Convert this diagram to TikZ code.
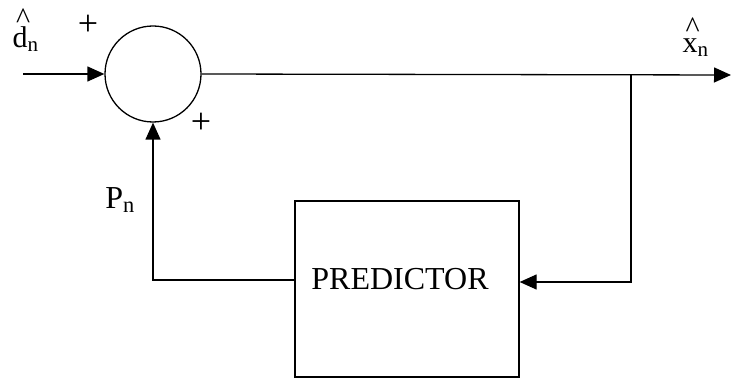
\documentclass[tikz,border=0pt]{standalone}
\usepackage{fontspec}
\setmainfont{Liberation Serif}
\usetikzlibrary{arrows.meta}
\newcommand{\hatted}[3]{\rlap{\raisebox{#1}{\hspace{#2}\char"5E}}#3\textsubscript{n}}
\begin{document}
\begin{tikzpicture}[x=1pt, y=-1pt, line width=1.3pt]
	\tikzstyle{summer} = [circle, minimum size=96pt, inner sep=0pt, draw=black]
	\tikzstyle{block}  = [rectangle, minimum width=224pt, minimum height=176pt, draw=black]
	\tikzstyle{lbl}    = [inner sep=0pt, font=\fontsize{30}{34}\selectfont]
	\tikzstyle{big}    = [inner sep=0pt, font=\fontsize{32}{36}\selectfont]
	\tikzstyle{sig}    = [-{Triangle[length=17pt, width=15pt]}]

	\useasboundingbox (0,0) rectangle (731,379);

	\node[summer] (sum) at (153,74) {};
	\node[block] (pred) at (407,289) {};
	\node[big] (ptxt) at (400,279) {PREDICTOR};

	% signal labels
	\node[lbl, anchor=base west] (dn) at (12,48) {\hatted{0.66em}{0.12em}{d}};
	\node[lbl, anchor=base west] (xn) at (682,53) {\hatted{0.52em}{0.1em}{x}};
	\node[big] (pn) at (120,200) {P\textsubscript{n}};
	\foreach \name/\x/\y in {plusa/88/25, plusb/201/123}
		\node[inner sep=0pt, font=\fontsize{36}{40}\selectfont] (\name) at (\x, \y) {+};

	\coordinate (in) at (23,74);
	\coordinate (out) at (731,75);
	\coordinate (branch) at (631,75);
	\coordinate (fb) at (0,282);
	\coordinate (ret) at (0,280);

	\draw[sig] (in) -- (sum.west);
	\draw[sig] (sum.east) -- (out);
	\draw[sig] (branch) |- (pred.east |- fb);
	\draw[sig] (pred.west |- ret) -| (sum.south);

\end{tikzpicture}
\end{document}
